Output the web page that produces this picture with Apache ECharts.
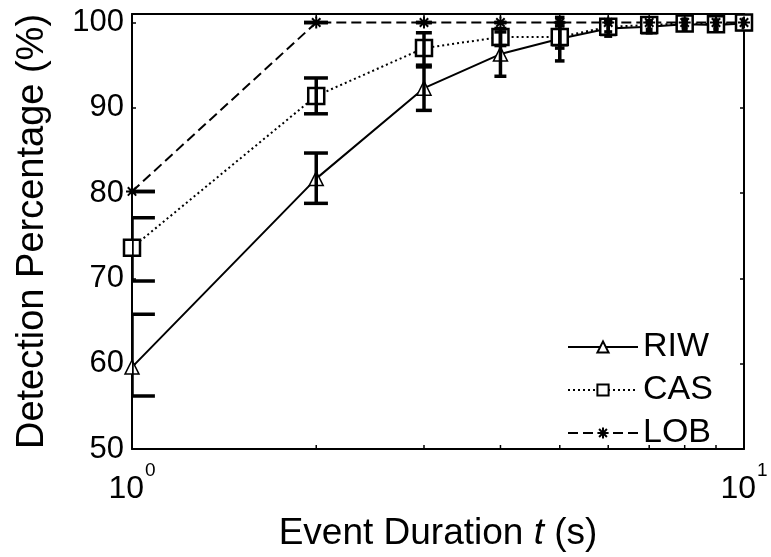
<!DOCTYPE html>
<html><head><meta charset="utf-8">
<script src="https://cdn.jsdelivr.net/npm/echarts@6/dist/echarts.min.js"></script>
<style>html,body{margin:0;padding:0;background:#fff}#c{width:771px;height:557px}</style>
</head><body><div id="c"></div>
<script>
// ---- data ----
const durations = [1, 2, 3, 4, 5, 6, 7, 8, 9, 10];
const riw     = [59.6, 81.7, 92.3, 96.3, 98.1, 99.3, 99.5, 99.8, 99.7, 99.9];
const riwLow  = [56.2, 78.8, 89.7, 93.7, 95.5, 98.4, 98.8, 99.2, 99.1, 99.4];
const riwHigh = [65.8, 84.7, 94.8, 98.9, 100.6, 100.2, 100.2, 100.4, 100.3, 100.4];
const cas     = [73.6, 91.4, 97.0, 98.3, 98.3, 99.5, 99.7, 99.9, 99.8, 100.0];
const casLow  = [69.7, 89.3, 95.0, 97.3, 97.0, 98.9, 99.2, 99.5, 99.4, 99.7];
const casHigh = [77.1, 93.5, 98.8, 99.3, 99.6, 100.1, 100.2, 100.3, 100.2, 100.3];
const lob     = [80.2, 100, 100, 100, 100, 100, 100, 100, 100, 100];
const lobLow  = [80.2, 100, 100, 100, 100, 100, 100, 100, 100, 100];
const lobHigh = [80.2, 100, 100, 100, 100, 100, 100, 100, 100, 100];
const seriesNames = ['RIW', 'CAS', 'LOB'];
const minorTicks = [2, 3, 4, 5, 6, 7, 8, 9];
const yMin = 50, yMax = 101, yStep = 10;
const xMin = 1, xMax = 10;
const xTitle = 'Event Duration {i|t} (s)';
const yTitle = 'Detection Percentage (%)';

// ---- styles ----
const FONT = "'Liberation Sans', Arial, Helvetica, sans-serif";
const CAP_HALF = 0.09; // errorbar cap half-width in data units (log x)
const starPath = 'path://M0,5L10,5M5,0L5,10M1.5,1.5L8.5,8.5M8.5,1.5L1.5,8.5';

const pts = (ys) => durations.map((x, i) => [x, ys[i]]);
const errPts = (lo, hi) => durations.map((x, i) => [x, lo[i], hi[i]]);

function errRender(params, api) {
  const x = api.value(0), lo = api.value(1), hi = api.value(2);
  const top = api.coord([x, hi]), bot = api.coord([x, lo]);
  const l = api.coord([x - CAP_HALF, hi])[0];
  const r = api.coord([x + CAP_HALF, hi])[0];
  const st = {stroke: '#000', lineWidth: 3.5, fill: null};
  return {type: 'group', children: [
    {type: 'line', shape: {x1: top[0], y1: top[1], x2: bot[0], y2: bot[1]}, style: st},
    {type: 'line', shape: {x1: l, y1: top[1], x2: r, y2: top[1]}, style: st},
    {type: 'line', shape: {x1: l, y1: bot[1], x2: r, y2: bot[1]}, style: st}
  ]};
}
function minorRender(params, api) {
  const x = api.value(0);
  const b = api.coord([x, yMin]), t = api.coord([x, yMax]);
  const st = {stroke: '#000', lineWidth: 1.5};
  return {type: 'group', children: [
    {type: 'line', shape: {x1: b[0], y1: b[1], x2: b[0], y2: b[1] - 4}, style: st},
    {type: 'line', shape: {x1: t[0], y1: t[1], x2: t[0], y2: t[1] + 4}, style: st}
  ]};
}

const chart = echarts.init(document.getElementById('c'), null, {renderer: 'canvas'});
chart.setOption({
  animation: false,
  backgroundColor: '#fff',
  textStyle: {fontFamily: FONT, color: '#000'},
  grid: {left: 132, right: 27, top: 14, bottom: 106},
  legend: {
    data: seriesNames, orient: 'vertical', left: 562, top: 325,
    itemWidth: 70, itemHeight: 14, itemGap: 9, itemTextGap: 10,
    textStyle: {fontSize: 34, color: '#000', fontFamily: FONT},
    backgroundColor: 'transparent'
  },
  xAxis: [{
    type: 'log', logBase: 10, min: xMin, max: xMax,
    name: xTitle, nameLocation: 'middle', nameGap: 66,
    nameTextStyle: {fontSize: 37, color: '#000', fontFamily: FONT,
      rich: {i: {fontSize: 37, fontStyle: 'italic', fontFamily: FONT, color: '#000'}}},
    axisLine: {lineStyle: {color: '#000', width: 2}},
    axisTick: {show: false},
    splitLine: {show: false},
    axisLabel: {
      margin: 12, color: '#000',
      formatter: v => '{b|10}{s|' + Math.round(Math.log10(v)) + '}',
      rich: {
        b: {fontSize: 32, fontFamily: FONT, color: '#000', lineHeight: 44, verticalAlign: 'bottom'},
        s: {fontSize: 19, fontFamily: FONT, color: '#000', lineHeight: 20, verticalAlign: 'top', padding: [0, 0, 0, 1]}
      }
    }
  }, {
    type: 'log', logBase: 10, min: xMin, max: xMax, position: 'top',
    axisLine: {lineStyle: {color: '#000', width: 2}},
    axisTick: {show: false}, axisLabel: {show: false}, splitLine: {show: false}
  }],
  yAxis: [{
    type: 'value', min: yMin, max: yMax, interval: yStep,
    name: yTitle, nameLocation: 'middle', nameGap: 80,
    nameTextStyle: {fontSize: 38, color: '#000', fontFamily: FONT},
    axisLine: {show: true, lineStyle: {color: '#000', width: 2}},
    axisTick: {show: true, inside: true, length: 4, lineStyle: {color: '#000', width: 1.5}},
    splitLine: {show: false},
    axisLabel: {fontSize: 31, color: '#000', margin: 8, fontFamily: FONT,
      formatter: v => (v % yStep === 0 ? String(v) : '')}
  }, {
    type: 'value', min: yMin, max: yMax, interval: yStep, position: 'right',
    axisLine: {show: true, lineStyle: {color: '#000', width: 2}},
    axisTick: {show: true, inside: true, length: 4, lineStyle: {color: '#000', width: 1.5}},
    axisLabel: {show: false}, splitLine: {show: false}
  }],
  series: [
    {name: 'RIW', type: 'line', data: pts(riw), z: 3,
     symbol: 'triangle', symbolSize: 14, showSymbol: true,
     lineStyle: {color: '#000', width: 2, type: 'solid'},
     itemStyle: {color: '#fff', borderColor: '#000', borderWidth: 1.5}},
    {name: 'CAS', type: 'line', data: pts(cas), z: 3,
     symbol: 'rect', symbolSize: 16, showSymbol: true,
     lineStyle: {color: '#000', width: 2, type: [2, 3]},
     itemStyle: {color: '#fff', borderColor: '#000', borderWidth: 2.5}},
    {name: 'LOB', type: 'line', data: pts(lob), z: 3,
     symbol: starPath, symbolSize: 12, showSymbol: true,
     lineStyle: {color: '#000', width: 2, type: [10, 5]},
     itemStyle: {color: '#000', borderColor: '#000', borderWidth: 2}},
    {type: 'custom', data: errPts(riwLow, riwHigh), renderItem: errRender, clip: true, z: 5, encode: {x: 0, y: [1, 2]}},
    {type: 'custom', data: errPts(casLow, casHigh), renderItem: errRender, clip: true, z: 5, encode: {x: 0, y: [1, 2]}},
    {type: 'custom', data: errPts(lobLow, lobHigh), renderItem: errRender, clip: true, z: 5, encode: {x: 0, y: [1, 2]}},
    {type: 'custom', data: minorTicks.map(v => [v]), renderItem: minorRender, clip: false, z: 6, encode: {x: 0}}
  ]
});
</script>
</body></html>
